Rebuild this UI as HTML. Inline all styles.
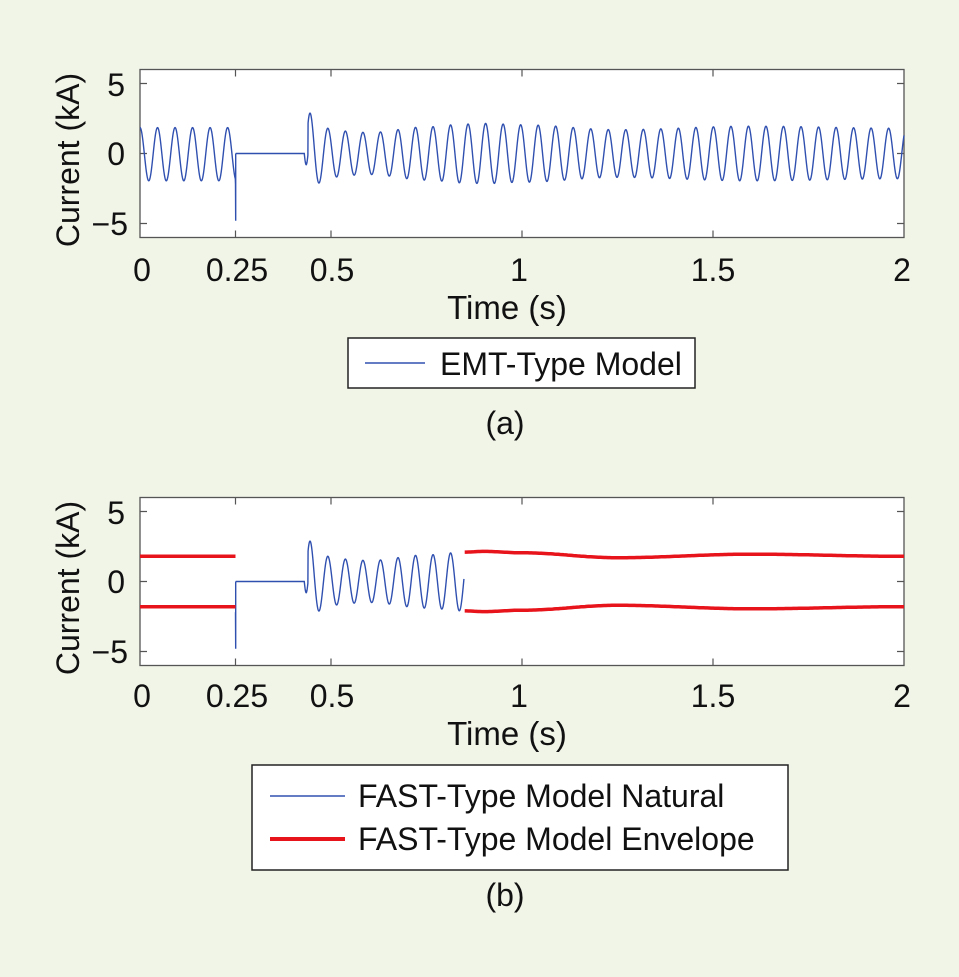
<!DOCTYPE html>
<html><head><meta charset="utf-8"><style>
html,body{margin:0;padding:0;background:#f1f5e8;}
svg{display:block;font-family:"Liberation Sans",Arial,sans-serif;}
</style></head><body>
<svg id="s" width="959" height="977" viewBox="0 0 959 977" xmlns="http://www.w3.org/2000/svg">
<rect width="959" height="977" fill="#f1f5e8"/>
<rect x="140" y="69.5" width="764" height="168" fill="#fff" stroke="#555" stroke-width="1.3"/>
<g id="ga"></g>
<g font-size="32" fill="#111">
<text x="125" y="96" text-anchor="end">5</text>
<text x="125" y="165" text-anchor="end">0</text>
<text x="128" y="235" text-anchor="end">−5</text>
<text x="142" y="281" text-anchor="middle">0</text>
<text x="237" y="281" text-anchor="middle">0.25</text>
<text x="332" y="281" text-anchor="middle">0.5</text>
<text x="519" y="281" text-anchor="middle">1</text>
<text x="713" y="281" text-anchor="middle">1.5</text>
<text x="902" y="281" text-anchor="middle">2</text>
<text x="507" y="319" text-anchor="middle" font-size="33">Time (s)</text>
<text transform="translate(79,160) rotate(-90)" text-anchor="middle" font-size="32">Current (kA)</text>
<text x="505" y="434" text-anchor="middle">(a)</text>
</g>
<rect x="348" y="338" width="347" height="50" fill="#fff" stroke="#222" stroke-width="1.5"/>
<line x1="365" y1="363" x2="425" y2="363" stroke="#3050b0" stroke-width="1.5"/>
<text x="440" y="375" font-size="32" fill="#111">EMT-Type Model</text>
<rect x="140" y="497.5" width="764" height="168" fill="#fff" stroke="#555" stroke-width="1.3"/>
<g id="gb"></g>
<g font-size="32" fill="#111">
<text x="125" y="524" text-anchor="end">5</text>
<text x="125" y="593" text-anchor="end">0</text>
<text x="128" y="663" text-anchor="end">−5</text>
<text x="142" y="707" text-anchor="middle">0</text>
<text x="237" y="707" text-anchor="middle">0.25</text>
<text x="332" y="707" text-anchor="middle">0.5</text>
<text x="519" y="707" text-anchor="middle">1</text>
<text x="713" y="707" text-anchor="middle">1.5</text>
<text x="902" y="707" text-anchor="middle">2</text>
<text x="507" y="745" text-anchor="middle" font-size="33">Time (s)</text>
<text transform="translate(79,588) rotate(-90)" text-anchor="middle" font-size="32">Current (kA)</text>
<text x="505" y="906" text-anchor="middle">(b)</text>
</g>
<rect x="252" y="765" width="536" height="105" fill="#fff" stroke="#222" stroke-width="1.5"/>
<line x1="270" y1="796" x2="345" y2="796" stroke="#3050b0" stroke-width="1.5"/>
<text x="358" y="807" font-size="32" fill="#111">FAST-Type Model Natural</text>
<line x1="270" y1="839" x2="345" y2="839" stroke="#e8141c" stroke-width="4"/>
<text x="358" y="850" font-size="32" fill="#111">FAST-Type Model Envelope</text>
</svg>
<script>
var NS="http://www.w3.org/2000/svg";
function X(t){return 140+382*t;}
var pts=[[0.5,1.6],[0.6,1.5],[0.75,1.9],[0.85,2.1],[0.9,2.15],[1.0,2.05],[1.25,1.7],[1.6,1.95],[2,1.8]];
function env(t){
 if(t<=pts[0][0])return pts[0][1];
 for(var i=0;i<pts.length-1;i++){var a=pts[i],b=pts[i+1];
  if(t<=b[0]){var u=(t-a[0])/(b[0]-a[0]);u=(1-Math.cos(Math.PI*u))/2;return a[1]+(b[1]-a[1])*u;}}
 return pts[pts.length-1][1];}
var f=21.8;
function sig(t){
 if(t<0.25)return 1.9*Math.cos(2*Math.PI*f*t)-0.05;
 if(t<0.43)return 0;
 if(t<0.44)return -0.8*Math.sin(Math.PI*(t-0.43)/0.01);
 var a=env(t)+1.6*Math.exp(-(t-0.44)/0.025);
 return a*Math.cos(2*Math.PI*f*(t-0.446));
}
function wave(g,y0,tmin,tmax){
 var d="";var n=0;
 for(var t=tmin;t<=tmax;t+=0.0005){
  var y=y0-14*sig(t);
  if(Math.abs(t-0.25)<0.00026){d+=(n++?"L":"M")+X(0.25)+","+(y0+14*2.2)+"L"+X(0.2505)+","+(y0+14*4.8)+"L"+X(0.2505)+","+y0;continue;}
  d+=(n++?"L":"M")+X(t).toFixed(2)+","+y.toFixed(2);
 }
 var p=document.createElementNS(NS,"path");p.setAttribute("d",d);p.setAttribute("fill","none");
 p.setAttribute("stroke","#3050b0");p.setAttribute("stroke-width","1.4");g.appendChild(p);
}
function ticks(g,y0,top,bot){
 var s="";[0.25,0.5,1,1.5].forEach(function(t){var x=X(t);s+="M"+x+","+top+"v7M"+x+","+bot+"v-7";});
 [5,0,-5].forEach(function(v){var y=y0-14*v;s+="M140,"+y+"h7M904,"+y+"h-7";});
 var p=document.createElementNS(NS,"path");p.setAttribute("d",s);p.setAttribute("stroke","#555");p.setAttribute("stroke-width","1.2");g.appendChild(p);
}
var ga=document.getElementById("ga"),gb=document.getElementById("gb");
ticks(ga,153.5,69.5,237.5);ticks(gb,581.5,497.5,665.5);
wave(ga,153.5,0,2);
wave(gb,581.5,0.25,0.848);
function red(d){var p=document.createElementNS(NS,"path");p.setAttribute("d",d);p.setAttribute("fill","none");p.setAttribute("stroke","#e8141c");p.setAttribute("stroke-width","3.5");gb.appendChild(p);}
red("M140,"+(581.5-14*1.8)+"H"+X(0.25));
red("M140,"+(581.5+14*1.8)+"H"+X(0.25));
var u="",l="";
for(var t=0.85;t<=2.0001;t+=0.005){var e=env(t);u+=(u?"L":"M")+X(t).toFixed(1)+","+(581.5-14*e).toFixed(1);l+=(l?"L":"M")+X(t).toFixed(1)+","+(581.5+14*e).toFixed(1);}
red(u);red(l);
</script>
</body></html>
